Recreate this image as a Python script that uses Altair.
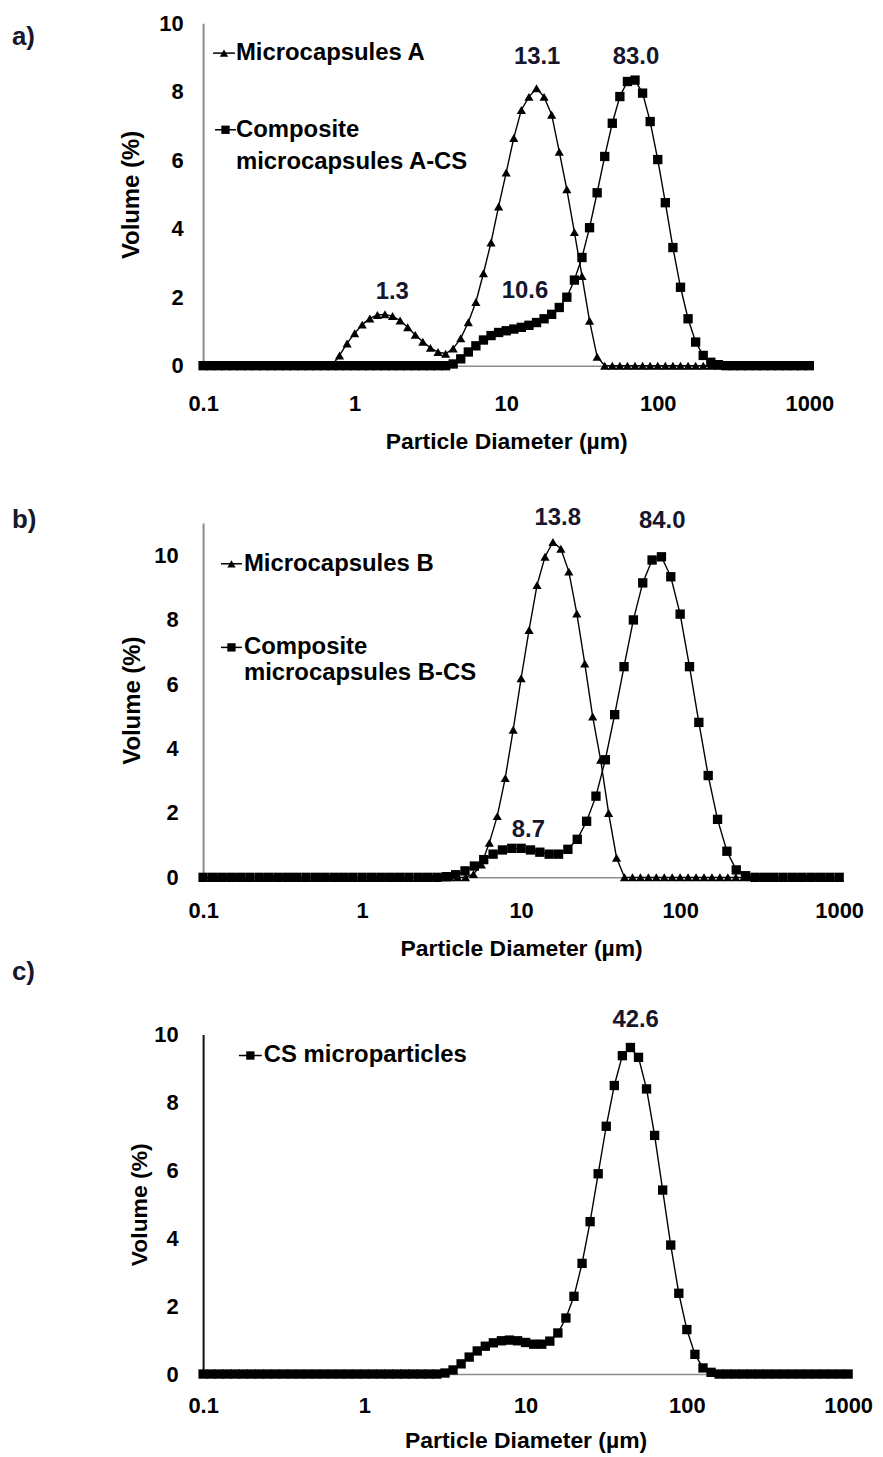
import altair as alt
import pandas as pd

FONT = "Liberation Sans"
INK = "#000000"
NOTE = "#16162c"

# ---------------- data ----------------
# size classes, 20 per decade (panels a, c and Microcapsules B)
size_classes = [
    0.1, 0.1122, 0.1259, 0.1413, 0.1585, 0.1778, 0.1995, 0.2239, 0.2512, 0.2818,
    0.3162, 0.3548, 0.3981, 0.4467, 0.5012, 0.5623, 0.6310, 0.7079, 0.7943, 0.8913,
    1.0, 1.122, 1.259, 1.413, 1.585, 1.778, 1.995, 2.239, 2.512, 2.818,
    3.162, 3.548, 3.981, 4.467, 5.012, 5.623, 6.310, 7.079, 7.943, 8.913,
    10.0, 11.22, 12.59, 14.13, 15.85, 17.78, 19.95, 22.39, 25.12, 28.18,
    31.62, 35.48, 39.81, 44.67, 50.12, 56.23, 63.10, 70.79, 79.43, 89.13,
    100.0, 112.2, 125.9, 141.3, 158.5, 177.8, 199.5, 223.9, 251.2, 281.8,
    316.2, 354.8, 398.1, 446.7, 501.2, 562.3, 631.0, 707.9, 794.3, 891.3,
    1000.0,
]
# coarser size classes of the B-CS measurement
size_classes_bcs = [
    0.1, 0.1145, 0.1311, 0.1501, 0.1719, 0.1968, 0.2254, 0.2581, 0.2955, 0.3384,
    0.3875, 0.4437, 0.5080, 0.5817, 0.6661, 0.7627, 0.8733,
    1.0, 1.145, 1.311, 1.501, 1.719, 1.968, 2.254, 2.581, 2.955, 3.384,
    3.875, 4.437, 5.080, 5.817, 6.661, 7.627, 8.733,
    10.0, 11.45, 13.11, 15.01, 17.19, 19.68, 22.54, 25.81, 29.55, 33.84,
    38.75, 44.37, 50.80, 58.17, 66.61, 76.27, 87.33,
    100.0, 114.5, 131.1, 150.1, 171.9, 196.8, 225.4, 258.1, 295.5, 338.4,
    387.5, 443.7, 508.0, 581.7, 666.1, 762.7, 873.3,
    1000.0,
]

vol_a = [
    0, 0, 0, 0, 0, 0, 0, 0, 0, 0,
    0, 0, 0, 0, 0, 0, 0, 0, 0.3, 0.65,
    0.95, 1.2, 1.38, 1.48, 1.5, 1.45, 1.32, 1.12, 0.9, 0.7,
    0.52, 0.4, 0.35, 0.5, 0.8, 1.27, 1.86, 2.7, 3.6, 4.65,
    5.64, 6.65, 7.47, 7.85, 8.1, 7.85, 7.33, 6.25, 5.15, 3.9,
    2.62, 1.31, 0.26, 0, 0, 0, 0, 0, 0, 0,
    0, 0, 0, 0, 0, 0, 0, 0, 0, 0,
    0, 0, 0, 0, 0, 0, 0, 0, 0, 0,
    0,
]
vol_a_cs = [
    0, 0, 0, 0, 0, 0, 0, 0, 0, 0,
    0, 0, 0, 0, 0, 0, 0, 0, 0, 0,
    0, 0, 0, 0, 0, 0, 0, 0, 0, 0,
    0, 0, 0, 0.05, 0.2, 0.4, 0.58, 0.75, 0.88, 0.97,
    1.02, 1.07, 1.12, 1.18, 1.26, 1.37, 1.5, 1.7, 2.0, 2.5,
    3.16, 4.03, 5.05, 6.11, 7.08, 7.86, 8.3, 8.34, 7.96, 7.13,
    6.02, 4.76, 3.45, 2.29, 1.37, 0.69, 0.3, 0.1, 0.03, 0,
    0, 0, 0, 0, 0, 0, 0, 0, 0, 0,
    0,
]
vol_b = [
    0, 0, 0, 0, 0, 0, 0, 0, 0, 0,
    0, 0, 0, 0, 0, 0, 0, 0, 0, 0,
    0, 0, 0, 0, 0, 0, 0, 0, 0, 0,
    0, 0, 0, 0, 0.1, 0.4, 1.07, 1.9, 3.08, 4.58,
    6.18, 7.68, 9.07, 9.95, 10.41, 10.2, 9.49, 8.19, 6.64, 4.99,
    3.65, 2.0, 0.61, 0, 0, 0, 0, 0, 0, 0,
    0, 0, 0, 0, 0, 0, 0, 0, 0, 0,
    0, 0, 0, 0, 0, 0, 0, 0, 0, 0,
    0,
]
vol_b_cs = [
    0, 0, 0, 0, 0, 0, 0, 0, 0, 0,
    0, 0, 0, 0, 0, 0, 0, 0, 0, 0,
    0, 0, 0, 0, 0, 0, 0.02, 0.08, 0.2, 0.35,
    0.55, 0.72, 0.85, 0.9, 0.9, 0.85, 0.78, 0.72, 0.72, 0.87,
    1.18, 1.74, 2.52, 3.65, 5.05, 6.54, 7.99, 9.14, 9.85, 9.95,
    9.33, 8.17, 6.54, 4.81, 3.16, 1.8, 0.81, 0.23, 0.05, 0,
    0, 0, 0, 0, 0, 0, 0, 0, 0,
]
vol_cs = [
    0, 0, 0, 0, 0, 0, 0, 0, 0, 0,
    0, 0, 0, 0, 0, 0, 0, 0, 0, 0,
    0, 0, 0, 0, 0, 0, 0, 0, 0, 0,
    0.03, 0.12, 0.3, 0.5, 0.68, 0.82, 0.92, 0.98, 1.0, 0.98,
    0.93, 0.88, 0.88, 0.97, 1.21, 1.65, 2.29, 3.26, 4.49, 5.9,
    7.3, 8.5, 9.38, 9.62, 9.33, 8.4, 7.03, 5.42, 3.8, 2.38,
    1.31, 0.58, 0.18, 0.05, 0, 0, 0, 0, 0, 0,
    0, 0, 0, 0, 0, 0, 0, 0, 0, 0,
    0,
]

peak_text_a = ["1.3", "10.6", "13.1", "83.0"]
peak_x_a = [1.77, 13.3, 16.0, 71.8]
peak_y_a = [2.15, 2.18, 9.01, 9.01]
peak_text_b = ["13.8", "84.0", "8.7"]
peak_x_b = [17.0, 77.2, 11.1]
peak_y_b = [11.15, 11.05, 1.46]
peak_text_c = ["42.6"]
peak_x_c = [48.1]
peak_y_c = [10.43]

x_ticks = [0.1, 1, 10, 100, 1000]
y_ticks = [0, 2, 4, 6, 8, 10]


# ---------------- helpers ----------------
def encodings(ymax, x_lab_pad, x_title_y, y_lab_pad, y_title_x, y_title_size, ydom_color):
    x = alt.X(
        "d:Q",
        scale=alt.Scale(type="log", domain=[0.1, 1000], nice=False),
        axis=alt.Axis(
            values=x_ticks, format="~g", title="Particle Diameter (µm)",
            grid=False, ticks=False, tickSize=0, domainColor="#8c8c8c", domainWidth=1.5,
            labelFont=FONT, labelFontSize=22, labelFontWeight="bold", labelColor=INK,
            labelPadding=x_lab_pad, labelFlush=False, labelOverlap=False,
            titleFont=FONT, titleFontSize=23, titleFontWeight="bold", titleColor=INK,
            titleY=x_title_y, titleBaseline="middle",
        ),
    )
    y = alt.Y(
        "v:Q",
        scale=alt.Scale(domain=[0, ymax], nice=False),
        axis=alt.Axis(
            values=y_ticks, format="d", title="Volume (%)",
            grid=False, ticks=False, tickSize=0, domainColor=ydom_color, domainWidth=2,
            labelFont=FONT, labelFontSize=22, labelFontWeight="bold", labelColor=INK,
            labelPadding=y_lab_pad, labelFlush=False, labelOverlap=False,
            titleFont=FONT, titleFontSize=y_title_size, titleFontWeight="bold", titleColor=INK,
            titleX=y_title_x, titleBaseline="middle",
        ),
    )
    return x, y


def series(xs, vs, shape, size, x, y):
    df = pd.DataFrame({"d": xs, "v": vs})
    base = alt.Chart(df)
    line = base.mark_line(color=INK, strokeWidth=1.4).encode(x=x, y=y)
    pts = base.mark_point(shape=shape, filled=True, color=INK, size=size, opacity=1).encode(x=x, y=y)
    return [line, pts]


def peaks(texts, xs, ys, x, y):
    df = pd.DataFrame({"d": xs, "v": ys, "t": texts})
    return alt.Chart(df).mark_text(
        font=FONT, fontSize=24, fontWeight="bold", color=NOTE, baseline="middle", align="center"
    ).encode(x=x, y=y, text="t:N")


def legend_entry(lines, shape, size, sx0, sx1, ly, tx, gap):
    one = pd.DataFrame({"t": [lines[0]]})
    out = [
        alt.Chart(one).mark_rule(color=INK, strokeWidth=1.5).encode(
            x=alt.value(sx0), x2=alt.value(sx1), y=alt.value(ly)),
        alt.Chart(one).mark_point(shape=shape, filled=True, color=INK, size=size, opacity=1).encode(
            x=alt.value((sx0 + sx1) / 2), y=alt.value(ly)),
    ]
    for j, s in enumerate(lines):
        out.append(
            alt.Chart(pd.DataFrame({"t": [s]})).mark_text(
                font=FONT, fontSize=24, fontWeight="bold", color=INK, align="left", baseline="middle"
            ).encode(x=alt.value(tx), y=alt.value(ly + j * gap), text="t:N")
        )
    return out


def letter(t, lx, ly):
    return alt.Chart(pd.DataFrame({"t": [t]})).mark_text(
        font=FONT, fontSize=26, fontWeight="bold", color=NOTE, align="left", baseline="middle"
    ).encode(x=alt.value(lx), y=alt.value(ly), text="t:N")


TRI, SQ = "triangle-up", "square"
TRI_SIZE, SQ_SIZE = 85, 88

# ---------------- panel a ----------------
xa, ya = encodings(10, 28, 76, 20, -72, 24, "#8c8c8c")
layers_a = (
    series(size_classes, vol_a, TRI, TRI_SIZE, xa, ya)
    + series(size_classes, vol_a_cs, SQ, SQ_SIZE, xa, ya)
    + [peaks(peak_text_a, peak_x_a, peak_y_a, xa, ya)]
    + legend_entry(["Microcapsules A"], TRI, 70, 10, 32, 30, 33, 32)
    + legend_entry(["Composite", "microcapsules A-CS"], SQ, 70, 12, 33, 107, 33, 32)
    + [letter("a)", -192, 14)]
)
panel_a = alt.layer(*layers_a).properties(width=609, height=344)

# ---------------- panel b ----------------
xb, yb = encodings(11, 23, 72, 25, -71, 24, "#8c8c8c")
layers_b = (
    series(size_classes, vol_b, TRI, TRI_SIZE, xb, yb)
    + series(size_classes_bcs, vol_b_cs, SQ, SQ_SIZE, xb, yb)
    + [peaks(peak_text_b, peak_x_b, peak_y_b, xb, yb)]
    + legend_entry(["Microcapsules B"], TRI, 70, 18, 39, 41, 41, 26)
    + legend_entry(["Composite", "microcapsules B-CS"], SQ, 70, 18, 39, 125, 41, 26)
    + [letter("b)", -192, -3)]
)
panel_b = alt.layer(*layers_b).properties(width=639, height=356)

# ---------------- panel c ----------------
xc, yc = encodings(10, 22, 67, 25, -64, 23, "#111111")
layers_c = (
    series(size_classes, vol_cs, SQ, SQ_SIZE, xc, yc)
    + [peaks(peak_text_c, peak_x_c, peak_y_c, xc, yc)]
    + legend_entry(["CS microparticles"], SQ, 70, 36, 59, 21, 61, 26)
    + [letter("c)", -192, -63)]
)
panel_c = alt.layer(*layers_c).properties(width=648, height=341)

chart = (
    alt.vconcat(panel_a, panel_b, panel_c, spacing=158, bounds="flush")
    .properties(padding={"left": 4, "top": 1, "right": 2, "bottom": 2})
    .configure(font=FONT, background="white")
    .configure_view(strokeWidth=0, stroke="transparent")
)

chart.save("out.html", embed_options={"renderer": "svg", "actions": False})
